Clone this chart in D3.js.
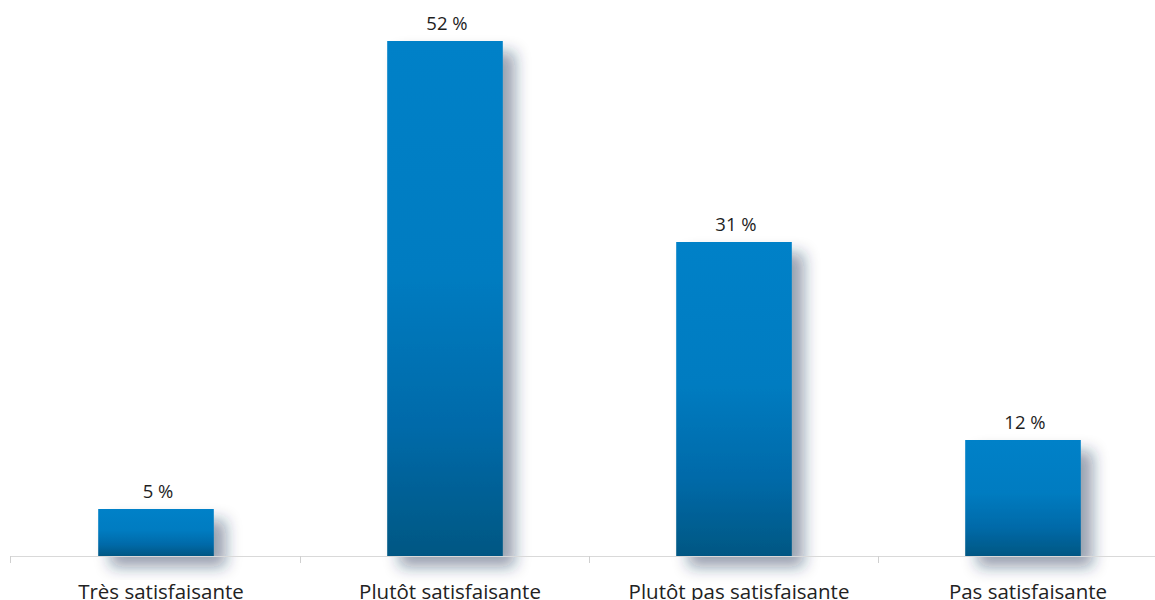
<!DOCTYPE html>
<html>
<head>
<meta charset="utf-8">
<script src="https://cdn.jsdelivr.net/npm/d3@7"></script>
<style>
  html, body { margin: 0; padding: 0; background: #ffffff; }
  svg { display: block; }
</style>
</head>
<body>
<svg id="chart" width="1155" height="600"></svg>
<script>
const categories = ["Très satisfaisante", "Plutôt satisfaisante", "Plutôt pas satisfaisante", "Pas satisfaisante"];
const values = [4.7, 51.5, 31.4, 11.6];
const valueLabels = ["5 %", "52 %", "31 %", "12 %"];

const W = 1155, H = 600;
const baseY = 556;
const svg = d3.select("#chart");

const x = d3.scaleBand().domain(categories).range([11.5, 1167.5]).paddingInner(0.6).paddingOuter(0.3);
const y = d3.scaleLinear().domain([0, 55.6]).range([baseY, 0]);

const defs = svg.append("defs");
const grad = defs.append("linearGradient").attr("id", "barGrad").attr("x1", 0).attr("y1", 0).attr("x2", 0).attr("y2", 1);
grad.append("stop").attr("offset", "0").attr("stop-color", "#0081c8");
grad.append("stop").attr("offset", "0.45").attr("stop-color", "#007cc1");
grad.append("stop").attr("offset", "0.75").attr("stop-color", "#006aa9");
grad.append("stop").attr("offset", "1").attr("stop-color", "#005783");

const filt = defs.append("filter").attr("id", "shadow").attr("x", "-30%").attr("y", "-30%").attr("width", "180%").attr("height", "180%");
filt.append("feDropShadow").attr("dx", 12).attr("dy", 11).attr("stdDeviation", 7.5)
  .attr("flood-color", "#1c2a50").attr("flood-opacity", 0.45);

// bars
svg.append("g").selectAll("rect").data(values).join("rect")
  .attr("x", (d, i) => x(categories[i]))
  .attr("y", d => y(d))
  .attr("width", x.bandwidth())
  .attr("height", d => baseY - y(d))
  .attr("fill", "url(#barGrad)")
  .attr("filter", "url(#shadow)");

// axis
const boundaries = categories.map(c => x(c) - x.step() * x.paddingOuter());
const axisG = svg.append("g");
axisG.append("line").attr("x1", 11).attr("x2", W).attr("y1", baseY + 0.5).attr("y2", baseY + 0.5)
  .attr("stroke", "#d9d9d9").attr("stroke-width", 1);
axisG.selectAll("line.tick").data(boundaries).join("line").attr("class", "tick")
  .attr("x1", d => Math.round(d) - 0.5).attr("x2", d => Math.round(d) - 0.5)
  .attr("y1", baseY).attr("y2", baseY + 7)
  .attr("stroke", "#d0d0d0").attr("stroke-width", 1);

// category labels
svg.append("g").selectAll("text").data(categories).join("text")
  .attr("x", d => x(d) + x.bandwidth() / 2 + 5)
  .attr("y", 599)
  .attr("text-anchor", "middle")
  .attr("font-family", "'Open Sans', sans-serif")
  .attr("font-size", 20.5)
  .attr("fill", "#222222")
  .text(d => d);

// value labels
svg.append("g").selectAll("text").data(values).join("text")
  .attr("x", (d, i) => x(categories[i]) + x.bandwidth() / 2 + 2)
  .attr("y", d => y(d) - 11)
  .attr("text-anchor", "middle")
  .attr("font-family", "'Open Sans', sans-serif")
  .attr("font-size", 18.5)
  .attr("fill", "#1e1e1e")
  .text((d, i) => valueLabels[i]);
</script>
</body>
</html>
